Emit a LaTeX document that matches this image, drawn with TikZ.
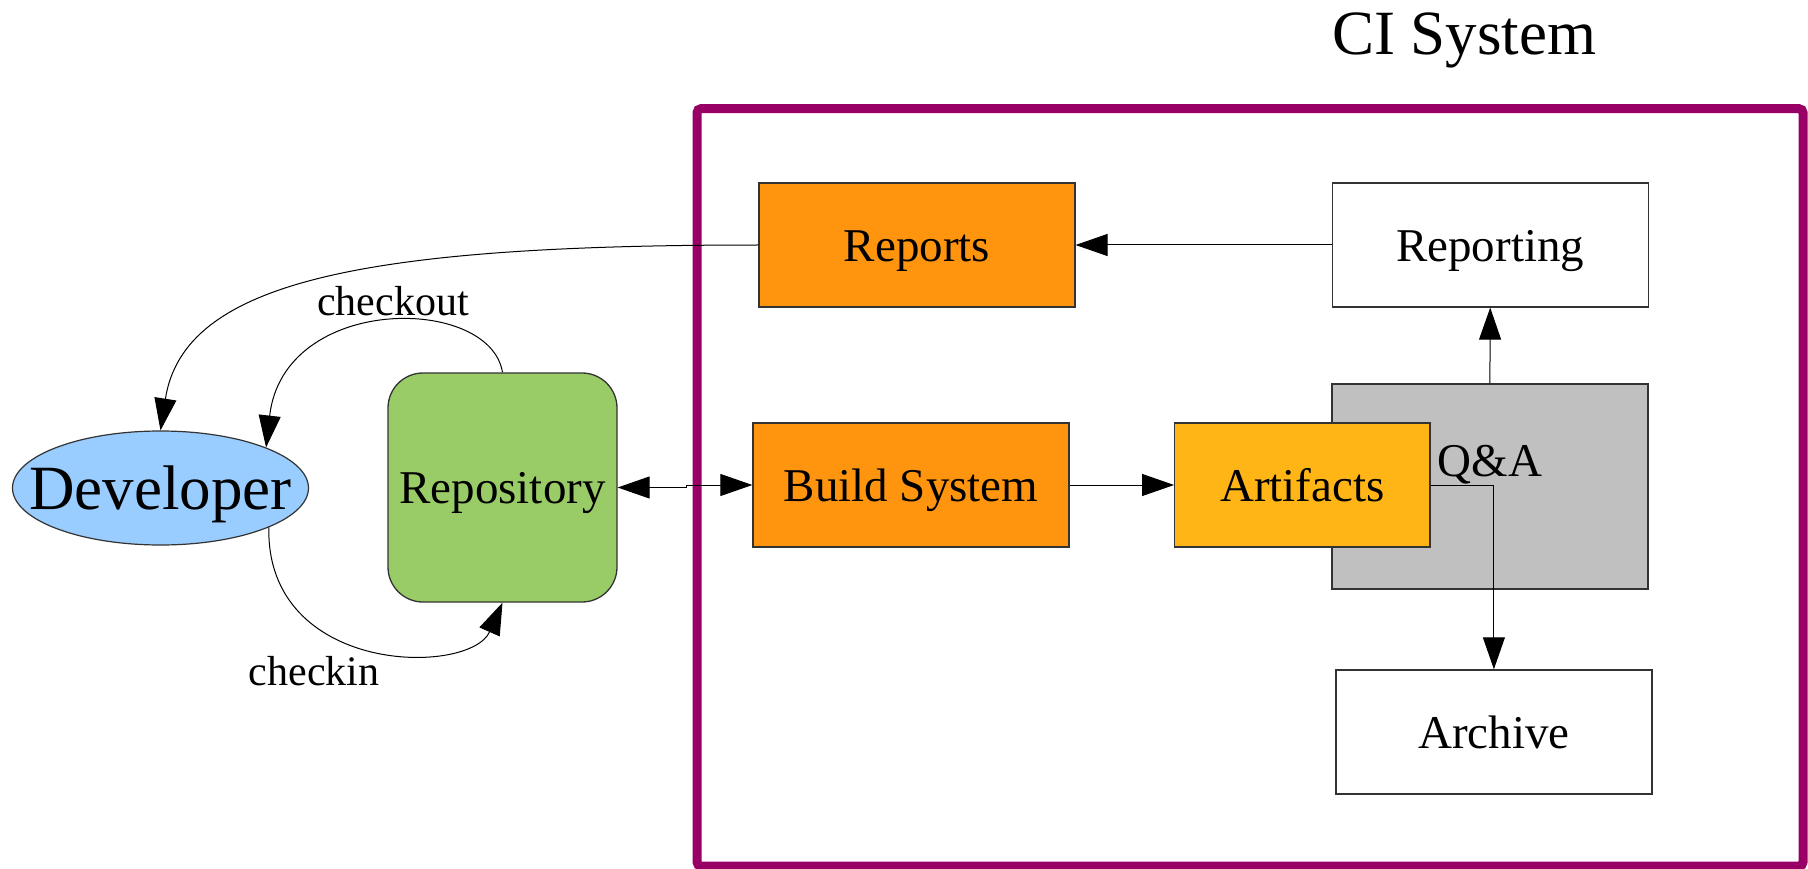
\documentclass[tikz,border=0pt]{standalone}
\usepackage{fontspec}
\setmainfont{Liberation Serif}
\usetikzlibrary{arrows.meta,shapes.geometric}
\definecolor{devblue}{HTML}{99CCFF}
\definecolor{repogreen}{HTML}{99CC66}
\definecolor{boxorange}{HTML}{FF950E}
\definecolor{artgold}{HTML}{FFB515}
\definecolor{qagray}{HTML}{C0C0C0}
\definecolor{ciframe}{HTML}{990066}
\definecolor{edgegray}{HTML}{333333}
\begin{document}
\begin{tikzpicture}[x=1pt,y=-1pt,
  box/.style={draw=edgegray, line width=1.3pt, rectangle, inner sep=0pt,
    minimum width=316pt, minimum height=124pt,
    font=\fontsize{47}{56}\selectfont, text height=33pt, text depth=0pt},
  conn/.style={line width=1pt, -{Triangle[length=32pt,width=22pt]}},
  dconn/.style={line width=1pt, {Triangle[length=32pt,width=22pt]}-{Triangle[length=32pt,width=22pt]}},
  edgelabel/.style={font=\fontsize{42}{50}\selectfont, anchor=base, inner sep=0pt},
]
% canvas
\fill[white] (0,0) rectangle (1808,869);
\useasboundingbox (0,0) rectangle (1808,869);

% CI frame and title
\draw[ciframe, line width=9pt, rounded corners=4pt] (697,108.7) rectangle (1803,866);
\node[font=\fontsize{63}{75}\selectfont, anchor=base west, inner sep=0pt] (title) at (1332,55) {CI System};

% left side
\node[ellipse, draw=edgegray, line width=1.2pt, fill=devblue, inner sep=0pt,
      minimum width=296pt, minimum height=114pt,
      font=\fontsize{63}{75}\selectfont, text height=42.6pt, text depth=0pt]
      (dev) at (160.5,488) {\makebox[0pt]{Developer}};
\node[box, fill=repogreen, rounded corners=35pt, minimum width=229pt, minimum height=229pt,
      text height=31.6pt] (repo) at (502.5,487.5) {Repository};

% CI boxes
\node[box, fill=boxorange] (reports) at (916.9,245) {Reports};
\node[box, fill=white] (reporting) at (1490.2,245) {Reporting};
\node[box, fill=boxorange] (build) at (911,485) {Build System};
\node[box, fill=qagray, minimum height=205pt] (qa) at (1489.9,486.5) {};
\node[font=\fontsize{47}{56}\selectfont, anchor=base, inner sep=0pt] (qatext) at (1490,476.7) {Q\&A};
\node[box, fill=artgold, minimum width=255.3pt] (art) at (1302.4,485) {Artifacts};
\node[box, fill=white] (arch) at (1493.9,731.9) {Archive};

% connectors
\draw[conn] (reports.west) .. controls (359,245) and (183.5,282.5) .. (dev.north);
\draw[conn] (repo.north) .. controls (490,295) and (283.6,293.5) .. (dev.21.6);
\draw[conn] (dev.-20.8) .. controls (266,676) and (470,676) .. (repo.south);
\coordinate (jog) at (686,487.5);
\draw[dconn] (repo.east) -- (jog) |- (build.west);
\draw[conn] (build.east) -- (art.west);
\draw[conn] (art.east) -| (arch.north);
\draw[conn] (qa.north) -- (reporting.south);
\draw[conn] (reporting.west) -- (reports.east);

% edge labels
\node[edgelabel] (checkoutlbl) at (393,316) {checkout};
\node[edgelabel] (checkinlbl) at (314,685) {checkin};
\end{tikzpicture}
\end{document}
